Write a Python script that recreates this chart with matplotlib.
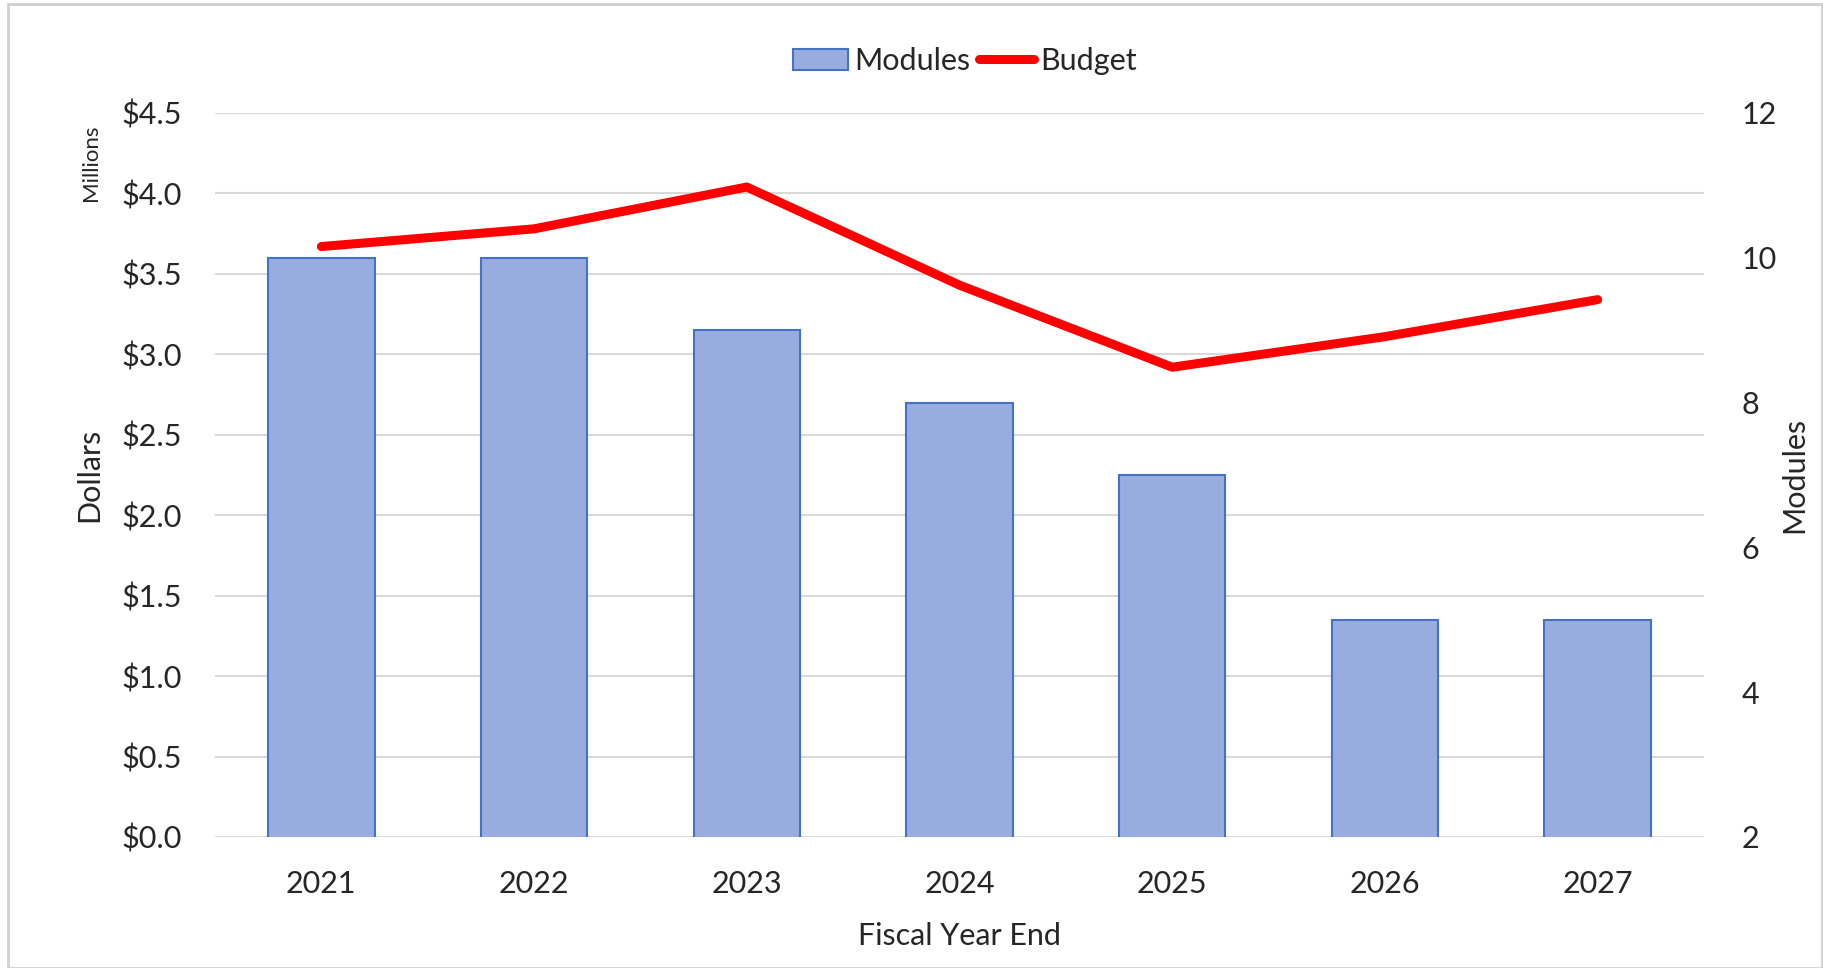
import matplotlib
matplotlib.use("Agg")
import matplotlib.pyplot as plt
from matplotlib.patches import Rectangle, Patch
from matplotlib.lines import Line2D
from matplotlib.ticker import FuncFormatter

years = ["2021", "2022", "2023", "2024", "2025", "2026", "2027"]
modules = [10, 10, 9, 8, 7, 5, 5]
budget_millions = [3.67, 3.78, 4.04, 3.43, 2.92, 3.11, 3.34]
left_ticks = [0.0, 0.5, 1.0, 1.5, 2.0, 2.5, 3.0, 3.5, 4.0, 4.5]
right_ticks = [2, 4, 6, 8, 10, 12]

plt.rcParams['font.family'] = ['Lato', 'DejaVu Sans']
txt = '#262626'
fs = 22

fig = plt.figure(figsize=(18.24, 9.68), dpi=100)
ax = fig.add_axes([215/1824, 1-837/968, (1704-215)/1824, (837-113)/968])
ax2 = ax.twinx()

x = list(range(len(years)))

# Bars on secondary axis
ax2.bar(x, modules, width=0.5, color='#98ACDF', edgecolor='#4472C4', linewidth=1.5, zorder=2)
ax2.set_ylim(2, 12)
ax2.set_yticks(right_ticks)

ax.set_ylim(0, 4.5)
ax.set_yticks(left_ticks)
ax.yaxis.set_major_formatter(FuncFormatter(lambda v, p: f"${v:.1f}"))
ax.set_xlim(-0.5, len(years) - 0.5)
ax.set_xticks(x)
ax.set_xticklabels(years)
ax.grid(axis='y', color='#D9D9D9', linewidth=1.5, zorder=0)
ax.set_axisbelow(True)

ax.set_zorder(ax2.get_zorder() - 1)
ax.patch.set_visible(False)
ax2.patch.set_visible(False)
ax2.plot(x, budget_millions, color='#FF0000', linewidth=6.5, solid_capstyle='round',
         solid_joinstyle='round', transform=ax.transData, zorder=3)

for a in (ax, ax2):
    for s in a.spines.values():
        s.set_visible(False)
    a.tick_params(length=0, labelsize=fs, colors=txt)

ax.tick_params(axis='y', pad=24)
ax.tick_params(axis='x', pad=24)
ax2.tick_params(axis='y', pad=27)

ax.set_xlabel("Fiscal Year End", fontsize=fs, color=txt)
ax.xaxis.set_label_coords(0.5, -0.117)
ax.set_ylabel("Dollars", fontsize=fs, color=txt)
ax.yaxis.set_label_coords(-0.075, 0.5)
ax2.set_ylabel("Modules", fontsize=fs, color=txt, rotation=90)
ax2.yaxis.set_label_coords(1.051, 0.5)

fig.text(91/1824, 1-163/968, "Millions", rotation=90, fontsize=16, color=txt,
         ha='center', va='center')

handles = [Patch(facecolor='#98ACDF', edgecolor='#4472C4', linewidth=1.5),
           Line2D([0], [0], color='#FF0000', linewidth=6.5, solid_capstyle='round')]
fig.legend(handles, ["Modules", "Budget"], loc='center', bbox_to_anchor=(965/1824, 1-61/968),
           ncol=2, frameon=False, fontsize=fs, handlelength=1.8, handletextpad=0.2,
           columnspacing=0.3, labelcolor=txt)

fig.patches.append(Rectangle((8/1824, 0.0), 1 - 8/1824 - 0.001, 1 - 4/968, transform=fig.transFigure,
                             fill=False, edgecolor='#D0D0D0', linewidth=2))

fig.savefig("out.png", dpi=100, facecolor='white')
